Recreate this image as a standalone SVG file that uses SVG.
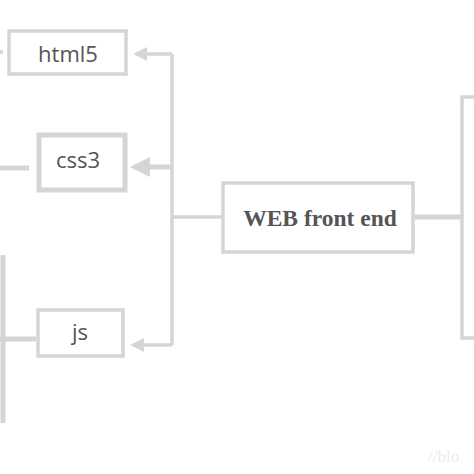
<svg xmlns="http://www.w3.org/2000/svg" width="474" height="474" viewBox="0 0 474 474">
<style>
.box{fill:#fff;stroke:#d5d5d5;stroke-width:3.5}
.ln{fill:none;stroke:#d5d5d5;stroke-width:3.5}
.thick{fill:none;stroke:#d5d5d5;stroke-width:5}
.lbl{font-family:"Open Sans","Noto Sans",sans-serif;font-size:22px;fill:#555;text-anchor:middle}
.main{font-family:"Liberation Serif","Times New Roman",serif;font-size:23.5px;font-weight:bold;fill:#555;text-anchor:middle}
</style>
<defs>
<marker id="arr" markerWidth="4" markerHeight="4" refX="3.2" refY="2" orient="auto" markerUnits="strokeWidth">
<path d="M0,0 L4,2 L0,4 Z" fill="#d5d5d5"/>
</marker>
</defs>
<rect width="474" height="474" fill="#fff"/>
<g id="connectors">
<path class="ln" d="M172,54 V345"/>
<path class="ln" d="M172,217 H222"/>
<path class="ln" d="M172,54 H136" marker-end="url(#arr)"/>
<path class="thick" d="M172,167 H134" marker-end="url(#arr)"/>
<path class="ln" d="M172,345 H133" marker-end="url(#arr)"/>
<path class="thick" d="M414,217 H462"/>
<path class="ln" d="M476,97 H462 V338 H476"/>
<path class="ln" d="M0,52 H3"/>
<path class="thick" d="M0,168 H29"/>
<path class="thick" d="M0,339 H36"/>
<path class="thick" d="M3,255 V423"/>
</g>
<g id="node-html5">
<rect class="box" x="9" y="31" width="117" height="43"/>
<text class="lbl" x="68" y="62">html5</text>
</g>
<g id="node-css3">
<rect class="box" x="39" y="135" width="86" height="55" style="stroke-width:5"/>
<text class="lbl" x="78" y="168">css3</text>
</g>
<g id="node-js">
<rect class="box" x="38" y="310" width="85" height="46"/>
<text class="lbl" x="80" y="340">js</text>
</g>
<g id="node-web">
<rect class="box" x="223" y="183" width="190" height="69"/>
<text class="main" x="320" y="226">WEB front end</text>
</g>
<text x="428" y="462" font-family="Liberation Serif, serif" font-size="17" fill="#ececec">//blo</text>
</svg>
